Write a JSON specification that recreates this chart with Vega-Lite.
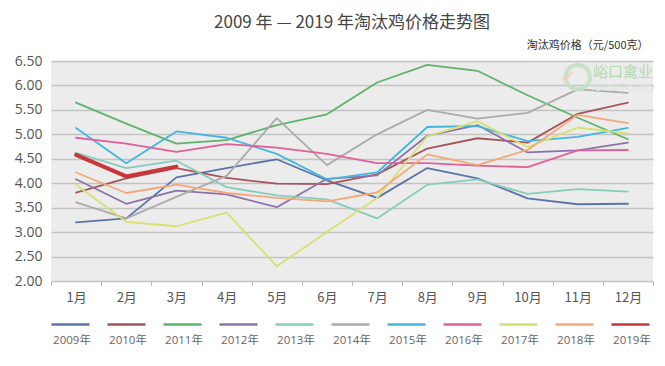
{
  "$schema": "https://vega.github.io/schema/vega-lite/v6.json",
  "width": 602,
  "height": 220,
  "autosize": {"type": "none"},
  "padding": {"left": 51, "top": 61, "right": 12, "bottom": 85},
  "background": "white",
  "config": {
    "font": "Open Sans, Noto Sans CJK SC, sans-serif",
    "view": {"fill": "#ececec", "stroke": null}
  },
  "title": {
    "text": "2009 年 — 2019 年淘汰鸡价格走势图",
    "anchor": "middle",
    "fontSize": 17,
    "fontWeight": "normal",
    "color": "#444444",
    "font": "Noto Sans CJK SC, Open Sans, sans-serif",
    "offset": 7
  },
  "datasets": {
    "prices": [
      {"year": "2009年", "month": "1月", "price": 3.20},
      {"year": "2009年", "month": "2月", "price": 3.28},
      {"year": "2009年", "month": "3月", "price": 4.12},
      {"year": "2009年", "month": "4月", "price": 4.31},
      {"year": "2009年", "month": "5月", "price": 4.49},
      {"year": "2009年", "month": "6月", "price": 4.06},
      {"year": "2009年", "month": "7月", "price": 3.70},
      {"year": "2009年", "month": "8月", "price": 4.31},
      {"year": "2009年", "month": "9月", "price": 4.10},
      {"year": "2009年", "month": "10月", "price": 3.69},
      {"year": "2009年", "month": "11月", "price": 3.57},
      {"year": "2009年", "month": "12月", "price": 3.58},
      {"year": "2010年", "month": "1月", "price": 3.81},
      {"year": "2010年", "month": "2月", "price": 4.10},
      {"year": "2010年", "month": "3月", "price": 4.31},
      {"year": "2010年", "month": "4月", "price": 4.11},
      {"year": "2010年", "month": "5月", "price": 3.99},
      {"year": "2010年", "month": "6月", "price": 3.98},
      {"year": "2010年", "month": "7月", "price": 4.18},
      {"year": "2010年", "month": "8月", "price": 4.71},
      {"year": "2010年", "month": "9月", "price": 4.92},
      {"year": "2010年", "month": "10月", "price": 4.83},
      {"year": "2010年", "month": "11月", "price": 5.42},
      {"year": "2010年", "month": "12月", "price": 5.65},
      {"year": "2011年", "month": "1月", "price": 5.65},
      {"year": "2011年", "month": "2月", "price": 5.22},
      {"year": "2011年", "month": "3月", "price": 4.81},
      {"year": "2011年", "month": "4月", "price": 4.88},
      {"year": "2011年", "month": "5月", "price": 5.19},
      {"year": "2011年", "month": "6月", "price": 5.41},
      {"year": "2011年", "month": "7月", "price": 6.06},
      {"year": "2011年", "month": "8月", "price": 6.42},
      {"year": "2011年", "month": "9月", "price": 6.30},
      {"year": "2011年", "month": "10月", "price": 5.80},
      {"year": "2011年", "month": "11月", "price": 5.34},
      {"year": "2011年", "month": "12月", "price": 4.90},
      {"year": "2012年", "month": "1月", "price": 4.08},
      {"year": "2012年", "month": "2月", "price": 3.58},
      {"year": "2012年", "month": "3月", "price": 3.85},
      {"year": "2012年", "month": "4月", "price": 3.77},
      {"year": "2012年", "month": "5月", "price": 3.51},
      {"year": "2012年", "month": "6月", "price": 4.09},
      {"year": "2012年", "month": "7月", "price": 4.16},
      {"year": "2012年", "month": "8月", "price": 4.97},
      {"year": "2012年", "month": "9月", "price": 5.19},
      {"year": "2012年", "month": "10月", "price": 4.63},
      {"year": "2012年", "month": "11月", "price": 4.67},
      {"year": "2012年", "month": "12月", "price": 4.83},
      {"year": "2013年", "month": "1月", "price": 4.62},
      {"year": "2013年", "month": "2月", "price": 4.31},
      {"year": "2013年", "month": "3月", "price": 4.46},
      {"year": "2013年", "month": "4月", "price": 3.92},
      {"year": "2013年", "month": "5月", "price": 3.75},
      {"year": "2013年", "month": "6月", "price": 3.67},
      {"year": "2013年", "month": "7月", "price": 3.28},
      {"year": "2013年", "month": "8月", "price": 3.97},
      {"year": "2013年", "month": "9月", "price": 4.08},
      {"year": "2013年", "month": "10月", "price": 3.78},
      {"year": "2013年", "month": "11月", "price": 3.88},
      {"year": "2013年", "month": "12月", "price": 3.83},
      {"year": "2014年", "month": "1月", "price": 3.61},
      {"year": "2014年", "month": "2月", "price": 3.28},
      {"year": "2014年", "month": "3月", "price": 3.72},
      {"year": "2014年", "month": "4月", "price": 4.15},
      {"year": "2014年", "month": "5月", "price": 5.33},
      {"year": "2014年", "month": "6月", "price": 4.37},
      {"year": "2014年", "month": "7月", "price": 5.00},
      {"year": "2014年", "month": "8月", "price": 5.50},
      {"year": "2014年", "month": "9月", "price": 5.32},
      {"year": "2014年", "month": "10月", "price": 5.44},
      {"year": "2014年", "month": "11月", "price": 5.92},
      {"year": "2014年", "month": "12月", "price": 5.85},
      {"year": "2015年", "month": "1月", "price": 5.13},
      {"year": "2015年", "month": "2月", "price": 4.41},
      {"year": "2015年", "month": "3月", "price": 5.06},
      {"year": "2015年", "month": "4月", "price": 4.93},
      {"year": "2015年", "month": "5月", "price": 4.60},
      {"year": "2015年", "month": "6月", "price": 4.08},
      {"year": "2015年", "month": "7月", "price": 4.22},
      {"year": "2015年", "month": "8月", "price": 5.15},
      {"year": "2015年", "month": "9月", "price": 5.17},
      {"year": "2015年", "month": "10月", "price": 4.86},
      {"year": "2015年", "month": "11月", "price": 4.95},
      {"year": "2015年", "month": "12月", "price": 5.13},
      {"year": "2016年", "month": "1月", "price": 4.93},
      {"year": "2016年", "month": "2月", "price": 4.81},
      {"year": "2016年", "month": "3月", "price": 4.64},
      {"year": "2016年", "month": "4月", "price": 4.80},
      {"year": "2016年", "month": "5月", "price": 4.73},
      {"year": "2016年", "month": "6月", "price": 4.60},
      {"year": "2016年", "month": "7月", "price": 4.41},
      {"year": "2016年", "month": "8月", "price": 4.41},
      {"year": "2016年", "month": "9月", "price": 4.36},
      {"year": "2016年", "month": "10月", "price": 4.33},
      {"year": "2016年", "month": "11月", "price": 4.67},
      {"year": "2016年", "month": "12月", "price": 4.68},
      {"year": "2017年", "month": "1月", "price": 3.97},
      {"year": "2017年", "month": "2月", "price": 3.21},
      {"year": "2017年", "month": "3月", "price": 3.12},
      {"year": "2017年", "month": "4月", "price": 3.40},
      {"year": "2017年", "month": "5月", "price": 2.30},
      {"year": "2017年", "month": "6月", "price": 3.00},
      {"year": "2017年", "month": "7月", "price": 3.70},
      {"year": "2017年", "month": "8月", "price": 4.96},
      {"year": "2017年", "month": "9月", "price": 5.27},
      {"year": "2017年", "month": "10月", "price": 4.74},
      {"year": "2017年", "month": "11月", "price": 5.14},
      {"year": "2017年", "month": "12月", "price": 5.02},
      {"year": "2018年", "month": "1月", "price": 4.22},
      {"year": "2018年", "month": "2月", "price": 3.80},
      {"year": "2018年", "month": "3月", "price": 3.97},
      {"year": "2018年", "month": "4月", "price": 3.80},
      {"year": "2018年", "month": "5月", "price": 3.70},
      {"year": "2018年", "month": "6月", "price": 3.63},
      {"year": "2018年", "month": "7月", "price": 3.81},
      {"year": "2018年", "month": "8月", "price": 4.59},
      {"year": "2018年", "month": "9月", "price": 4.37},
      {"year": "2018年", "month": "10月", "price": 4.68},
      {"year": "2018年", "month": "11月", "price": 5.40},
      {"year": "2018年", "month": "12月", "price": 5.23},
      {"year": "2019年", "month": "1月", "price": 4.58},
      {"year": "2019年", "month": "2月", "price": 4.14},
      {"year": "2019年", "month": "3月", "price": 4.34}
    ],
    "mark": [
      {"brand": "峪口禽业", "brandEn": "Yukou Poultry", "check": "✔"}
    ]
  },
  "data": {"name": "prices"},
  "layer": [
    {
      "mark": {"type": "line", "strokeCap": "round", "strokeJoin": "round"},
      "encoding": {
        "x": {
          "field": "month",
          "type": "nominal",
          "sort": ["1月","2月","3月","4月","5月","6月","7月","8月","9月","10月","11月","12月"],
          "scale": {"type": "band", "paddingInner": 0, "paddingOuter": 0},
          "axis": {
            "title": null,
            "labelAngle": 0,
            "labelFontSize": 13,
            "labelColor": "#555555",
            "labelFont": "Noto Sans CJK SC",
            "labelPadding": 6,
            "tickBand": "extent",
            "tickSize": 4,
            "tickColor": "#b5b5b5",
            "domain": false,
            "grid": false
          }
        },
        "y": {
          "field": "price",
          "type": "quantitative",
          "scale": {"domain": [2, 6.5], "nice": false, "zero": false},
          "axis": {
            "title": "淘汰鸡价格（元/500克）",
            "titleAngle": 0,
            "titleX": 597,
            "titleY": -16,
            "titleAlign": "right",
            "titleBaseline": "middle",
            "titleFontSize": 11,
            "titleFontWeight": "normal",
            "titleColor": "#333333",
            "titleFont": "Noto Sans CJK SC",
            "values": [2, 2.5, 3, 3.5, 4, 4.5, 5, 5.5, 6, 6.5],
            "tickCount": 20,
            "format": ".2f",
            "labelFontSize": 14,
            "labelColor": "#555555",
            "labelPadding": 9,
            "labelOverlap": false,
            "ticks": false,
            "domain": false,
            "gridColor": "#c4c4c4",
            "gridWidth": 1.5
          }
        },
        "color": {
          "field": "year",
          "type": "nominal",
          "scale": {
            "domain": ["2009年","2010年","2011年","2012年","2013年","2014年","2015年","2016年","2017年","2018年","2019年"],
            "range": ["#5a74a8","#a3555a","#5fb36b","#8d72aa","#86cdbb","#ababab","#45b6e0","#e0609a","#d8e070","#f3a878","#c8363c"]
          },
          "legend": {
            "title": null,
            "orient": "none",
            "legendX": -1,
            "legendY": 243,
            "direction": "horizontal",
            "columns": 11,
            "padding": 0,
            "symbolType": "stroke",
            "symbolSize": 1444,
            "symbolStrokeWidth": 2.5,
            "labelAlign": "center",
            "labelOffset": -19,
            "labelFontSize": 11.5,
            "labelColor": "#666666",
            "labelFont": "Open Sans, Noto Sans CJK SC",
            "columnPadding": 7,
            "encode": {"labels": {"update": {"dy": {"value": 16}}}}
          }
        },
        "strokeWidth": {
          "condition": {"test": "datum.year === '2019年'", "value": 4},
          "value": 1.8
        }
      }
    },
    {
      "data": {"name": "mark"},
      "mark": {"type": "point", "filled": false, "stroke": "#c3e2c3", "strokeWidth": 4, "size": 600, "opacity": 0.9, "dx": -12},
      "encoding": {
        "x": {"datum": "11月"},
        "y": {"datum": 6.17}
      }
    },
    {
      "data": {"name": "mark"},
      "mark": {"type": "text", "fontSize": 17, "color": "#f1d2b4", "dx": -10, "font": "DejaVu Sans"},
      "encoding": {
        "x": {"datum": "11月"},
        "y": {"datum": 6.15},
        "text": {"field": "check"}
      }
    },
    {
      "data": {"name": "mark"},
      "mark": {"type": "text", "fontSize": 15, "color": "#b3d9b3", "dx": -5, "font": "Noto Sans CJK SC"},
      "encoding": {
        "x": {"datum": "12月"},
        "y": {"datum": 6.27},
        "text": {"field": "brand"}
      }
    },
    {
      "data": {"name": "mark"},
      "mark": {"type": "text", "fontSize": 10, "color": "#d6e6d6", "dx": -6},
      "encoding": {
        "x": {"datum": "12月"},
        "y": {"datum": 5.94},
        "text": {"field": "brandEn"}
      }
    }
  ]
}
